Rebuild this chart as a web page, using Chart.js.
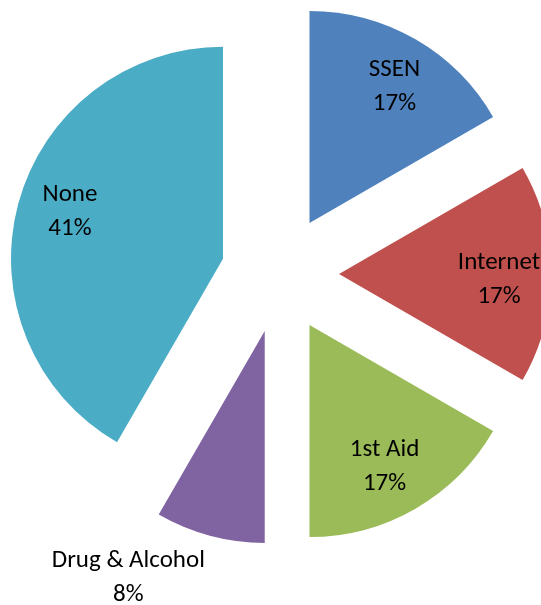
<!DOCTYPE html>
<html>
<head>
<meta charset="utf-8">
<script src="https://cdn.jsdelivr.net/npm/chart.js@4.4.0/dist/chart.umd.min.js"></script>
<style>
html, body { margin: 0; padding: 0; background: #fff; }
#wrap { width: 541px; height: 605px; }
</style>
</head>
<body>
<div id="wrap"><canvas id="pieChart"></canvas></div>
<script>
const categories = ['SSEN', 'Internet', '1st Aid', 'Drug & Alcohol', 'None'];
const counts = [2, 2, 2, 1, 5];
const pctLabels = ['17%', '17%', '17%', '8%', '41%'];
const sliceColors = ['#4F81BD', '#C0504D', '#9BBB59', '#8064A2', '#4BACC6'];

const pieRadius = 212;
const explode = 59; // px every slice is pulled out

// chart.js grows + narrows exploded slices a little (the "fix" in ArcElement.draw),
// a quarter-turn circumference makes that correction zero so edges stay straight
const straightSlices = {
    id: 'straightSlices',
    beforeDatasetsDraw(chart) {
        chart.getDatasetMeta(0).data.forEach(arc => {
            arc.circumference = Math.PI / 2;
        });
    }
};

// name + percent, small slices get the label outside
const sliceLabels = {
    id: 'sliceLabels',
    afterDatasetsDraw(chart) {
        const ctx = chart.ctx;
        ctx.save();
        ctx.font = '25px Carlito, Calibri, Lato, sans-serif';
        ctx.fillStyle = '#000';
        ctx.textAlign = 'center';
        ctx.textBaseline = 'middle';
        chart.getDatasetMeta(0).data.forEach((arc, i) => {
            let ang = (arc.startAngle + arc.endAngle) / 2 + 1.5 * Math.PI / 180;
            let dist = explode + pieRadius * 0.755;
            if (arc.endAngle - arc.startAngle < 0.6) {
                ang += 10 * Math.PI / 180;
                dist = explode + pieRadius * 1.325;
            }
            const x = arc.x + Math.cos(ang) * dist;
            const y = arc.y + Math.sin(ang) * dist;
            ctx.fillText(categories[i], x, y - 17);
            ctx.fillText(pctLabels[i], x, y + 17);
        });
        ctx.restore();
    }
};

new Chart(document.getElementById('pieChart'), {
    type: 'pie',
    data: {
        labels: categories,
        datasets: [{
            data: counts,
            backgroundColor: sliceColors,
            borderWidth: 0,
            offset: explode * 4,
            radius: pieRadius,
            clip: false
        }]
    },
    options: {
        responsive: true,
        maintainAspectRatio: false,
        animation: false,
        layout: {padding: {left: 19, right: 0, top: 0, bottom: 57}},
        plugins: {legend: {display: false}, tooltip: {enabled: false}}
    },
    plugins: [straightSlices, sliceLabels]
});
</script>
</body>
</html>
